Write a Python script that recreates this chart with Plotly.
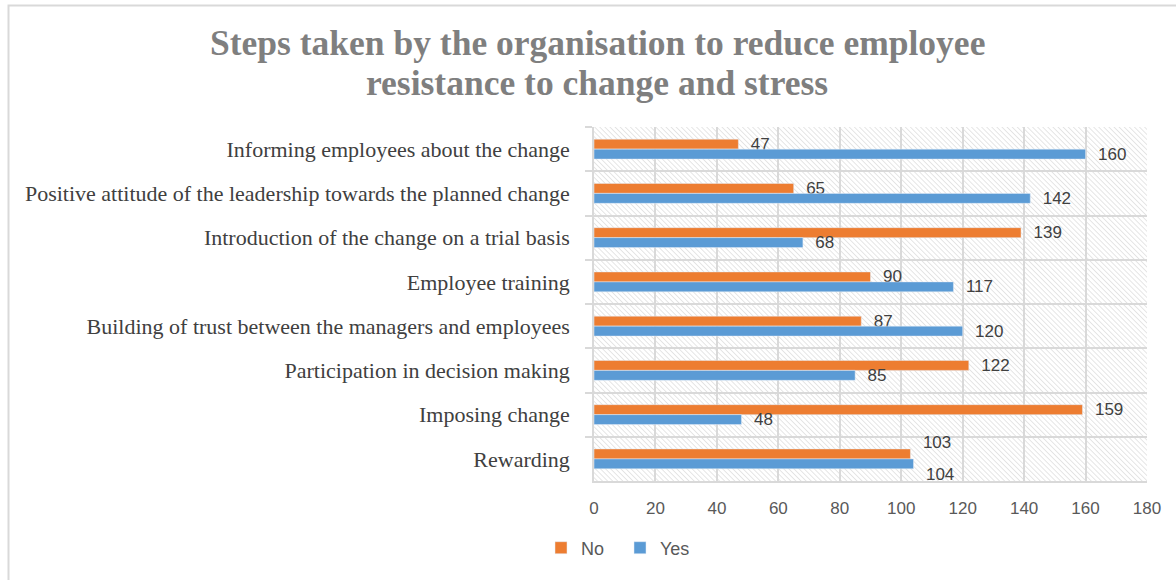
import base64
import plotly.graph_objects as go

# categories listed top to bottom, as in the chart
steps = [
    "Informing employees about the change",
    "Positive attitude of the leadership towards the planned change",
    "Introduction of the change on a trial basis",
    "Employee training",
    "Building of trust between the managers and employees",
    "Participation in decision making",
    "Imposing change",
    "Rewarding",
]
no_vals = [47, 65, 139, 90, 87, 122, 159, 103]
yes_vals = [160, 142, 68, 117, 120, 85, 48, 104]
x_ticks = [0, 20, 40, 60, 80, 100, 120, 140, 160, 180]
title_lines = [
    "Steps taken by the organisation to reduce employee",
    "resistance to change and stress",
]

W, H = 1176, 580
ml, mr, mt, mb = 594, 29, 127, 99
pw, ph = W - ml - mr, H - mt - mb

# hatched plot-area background
svg = (
    f'<svg xmlns="http://www.w3.org/2000/svg" width="{pw}" height="{ph}">'
    '<defs><pattern id="h" width="3.6" height="3.6" patternUnits="userSpaceOnUse" '
    'patternTransform="rotate(-45)"><line x1="0" y1="0" x2="0" y2="3.6" '
    'stroke="#cccccc" stroke-width="1"/></pattern></defs>'
    '<rect width="100%" height="100%" fill="url(#h)"/></svg>'
)
hatch = "data:image/svg+xml;base64," + base64.b64encode(svg.encode()).decode()

# labels that would collide (nearly equal values) are pushed apart vertically
close = [abs(a - b) < 10 for a, b in zip(no_vals, yes_vals)]
no_tpl = ["  %{x}<br> " if c else "  %{x}" for c in close]
yes_tpl = [" <br>  %{x}" if c else "  %{x}" for c in close]

lab_font = dict(family="Liberation Sans", size=17, color="#404040")

fig = go.Figure()
fig.add_trace(go.Bar(
    y=steps, x=no_vals, name="No", orientation="h",
    marker_color="#ed7d31", texttemplate=no_tpl,
    textposition="outside", textfont=lab_font, constraintext="none",
    cliponaxis=False,
))
fig.add_trace(go.Bar(
    y=steps, x=yes_vals, name="Yes", orientation="h",
    marker_color="#5b9bd5", texttemplate=yes_tpl,
    textposition="outside", textfont=lab_font, constraintext="none",
    cliponaxis=False,
))

px2x = lambda p: (p - ml) / pw
px2y = lambda p: 1 - (p - mt) / ph

title_font = dict(family="Liberation Serif", size=35.5, color="#7f7f7f")
annotations = [
    dict(text=f"<b>{t}</b>", xref="paper", yref="paper",
         x=px2x(597), y=px2y(yc), xanchor="center", yanchor="middle",
         showarrow=False, font=title_font)
    for t, yc in zip(title_lines, [43, 83])
]

fig.update_layout(
    width=W, height=H,
    margin=dict(l=ml, r=mr, t=mt, b=mb),
    barmode="group", bargap=0.55, bargroupgap=0,
    paper_bgcolor="white", plot_bgcolor="rgba(0,0,0,0)",
    annotations=annotations,
    legend=dict(
        orientation="h", xref="container", x=541 / W, xanchor="left",
        yref="container", y=1 - 548 / H, yanchor="middle",
        entrywidth=34, entrywidthmode="pixels",
        font=dict(family="Liberation Sans", size=18, color="#595959"),
    ),
    xaxis=dict(
        range=[0, 180], tickvals=x_ticks, showgrid=True,
        gridcolor="#d9d9d9", gridwidth=1.5, zeroline=False,
        showline=True, linecolor="#d9d9d9", linewidth=1.5,
        tickfont=dict(family="Liberation Sans", size=17, color="#595959"),
        ticks="", ticklabelstandoff=11,
    ),
    yaxis=dict(
        autorange="reversed", tickson="boundaries", showgrid=True,
        gridcolor="#d9d9d9", gridwidth=1.5,
        showline=True, linecolor="#d9d9d9", linewidth=1.5,
        ticks="outside", ticklen=7, tickcolor="#d9d9d9", tickwidth=1.5,
        tickfont=dict(family="Liberation Serif", size=22, color="#404040"),
        ticklabelstandoff=18,
    ),
    images=[dict(
        source=hatch, xref="x domain", yref="y domain", x=0, y=1,
        sizex=1, sizey=1, xanchor="left", yanchor="top",
        sizing="stretch", layer="below",
    )],
    shapes=[dict(
        type="rect", xref="paper", yref="paper",
        x0=px2x(8.5), x1=px2x(W + 5), y0=px2y(H + 5), y1=px2y(5.5),
        line=dict(color="#d9d9d9", width=2), fillcolor="rgba(0,0,0,0)",
        layer="below",
    )],
)

fig.write_html(
    "out.html",
    config={"displayModeBar": False},
    post_script="document.body.style.margin='0';",
)
